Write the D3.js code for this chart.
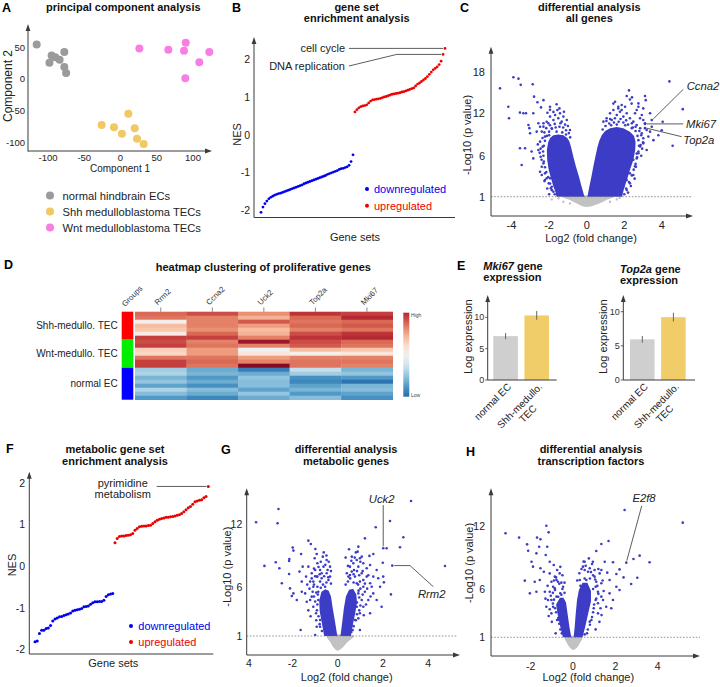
<!DOCTYPE html>
<html><head><meta charset="utf-8">
<script src="https://cdn.jsdelivr.net/npm/d3@7/dist/d3.min.js"></script>
<style>
html,body{margin:0;padding:0;background:#fff;}
svg text{font-family:"Liberation Sans",Arial,Helvetica,sans-serif;}
</style></head><body>
<svg id="fig" width="720" height="687" viewBox="0 0 720 687"></svg>
<script>
// ================= DATA =================
// A: PCA
const pcaGroups = ["normal hindbrain ECs","Shh medulloblastoma TECs","Wnt medulloblastoma TECs"];
const pcaColors = ["#9b9b9b","#f2c864","#f77fe2"];
const pcaNormal = [[-115.6,54],[-95,36.5],[-90,34],[-84,30],[-77.5,42],[-98,25],[-77.5,18.5],[-75,9]];
const pcaShh = [[10.8,-55.5],[-26,-73],[-9,-76.7],[2,-86.8],[19.6,-78.3],[22.8,-94.7],[32,-103]];
const pcaWnt = [[26,47.6],[66,45.5],[90,56.6],[87.6,44],[122.5,42],[108.7,26],[89.4,0.5]];
const pcaXTicks = [-100,-50,0,50,100];
const pcaYTicks = [50,0,-50,-100];

// B: GSEA all
const gseaDown = [-2.07,-1.93,-1.84,-1.77,-1.71,-1.67,-1.64,-1.61,-1.59,-1.57,-1.56,-1.54,-1.52,-1.50,-1.48,-1.46,-1.44,-1.42,-1.40,-1.38,-1.36,-1.34,-1.31,-1.29,-1.27,-1.25,-1.23,-1.21,-1.19,-1.17,-1.15,-1.13,-1.11,-1.09,-1.06,-1.04,-1.02,-1.00,-0.98,-0.96,-0.93,-0.91,-0.90,-0.88,-0.86,-0.82,-0.72,-0.54];
const gseaUp = [0.60,0.66,0.71,0.74,0.76,0.77,0.79,0.84,0.89,0.92,0.93,0.94,0.95,0.96,0.98,1.00,1.01,1.03,1.05,1.07,1.08,1.09,1.10,1.11,1.13,1.14,1.16,1.18,1.20,1.22,1.24,1.29,1.34,1.37,1.41,1.45,1.49,1.54,1.60,1.66,1.72,1.76,1.80,1.86,1.95,2.13,2.29];
const gseaYTicks = [-2,-1,0,1,2];
const gseaLabels = ["cell cycle","DNA replication"];

// C: volcano all genes
const cXTicks = [-4,-2,0,2,4];
const cYTicks = [1,6,12,18];
const cLeftCore = [[-0.12,1.0],[-0.27,2.22],[-0.41,3.44],[-0.57,4.66],[-0.71,5.88],[-0.83,7.19],[-0.92,8.0],[-1.03,8.5],[-1.24,8.9],[-1.51,9.0],[-1.77,8.9],[-1.95,8.5],[-2.05,7.9],[-2.12,6.81],[-2.1,5.47],[-2.02,4.25],[-1.9,3.24],[-1.78,2.30],[-1.65,1.49],[-1.58,1.0]];
const cRightCore = [[0.04,1.0],[0.14,2.22],[0.25,3.44],[0.35,4.66],[0.46,5.88],[0.57,7.19],[0.67,8.1],[0.80,8.9],[0.98,9.5],[1.24,9.9],[1.60,10.05],[1.95,9.9],[2.30,9.4],[2.52,8.8],[2.6,7.99],[2.58,6.81],[2.48,5.47],[2.3,4.25],[2.14,3.03],[1.99,2.02],[1.88,1.0]];
const cGrayCore = [[-1.3,1.0],[-0.9,0.6],[-0.55,0.2],[-0.3,-0.1],[0,-0.25],[0.35,-0.1],[0.7,0.2],[1.05,0.6],[1.45,1.0]];
const cGrayPts = [[-1.86,0.67],[-1.24,0.39],[1.60,0.67],[-0.89,0.18],[1.24,0.39],[-1.5,0.8],[1.75,0.85]];
const cBluePts = [
[-4.61,15.6],[-3.90,17.2],[-3.63,17.0],[-3.51,16.1],[-2.87,16.2],[-4.17,12.95],[-4.13,11.3],[-3.55,12.1],[-3.37,12.0],[-3.23,12.0],[-2.84,12.0],[-2.80,14.4],[-2.62,13.6],[-2.30,13.9],[-2.43,12.85],[-1.95,12.5],[-1.77,12.2],[-1.60,13.3],[-3.55,7.05],[-3.46,4.86],[-3.28,7.05],[-2.93,6.6],[-2.84,5.67],[-3.01,9.17],[-2.66,9.4],[-2.48,4.05],[-2.39,3.64],[-2.22,3.03],[-1.95,3.24],[-1.86,2.22],[-1.77,1.61],[-1.56,1.2],[-3.10,10.35],[-3.05,9.9],[-2.57,10.6],[-2.48,10.1],[-2.13,10.8],[-2.30,10.6],
[-1.56,12.47],[-1.42,12.0],[-1.68,11.76],[-1.95,11.53],[-1.24,11.53],[-1.06,11.06],[-1.77,11.06],[-2.04,10.58],[-2.30,10.11],[-1.33,10.82],[-1.51,11.29],[-1.86,9.88],[-0.89,9.64],[-2.39,9.41],[-2.22,8.70],[-2.48,7.99],[-2.34,7.28],[-2.57,6.81],[-2.45,5.88],[-2.30,5.07],[-2.39,4.66],[-2.22,3.85],[-2.13,3.24],[-2.02,2.63],[-1.91,2.02],[-1.45,12.71],[-1.21,12.23],[-1.95,12.95],[-2.09,12.09],
[-1.70,1.3],[-1.85,1.8],[-1.95,2.6],[-2.05,3.4],[-2.15,4.0],[-2.22,4.6],[-2.28,5.3],[-2.30,6.0],[-2.32,6.6],[-2.28,7.4],[-2.22,8.1],[-2.12,8.8],[-2.0,9.4],[-1.85,9.8],[-1.65,10.0],[-1.45,10.1],[-1.25,10.0],[-1.1,9.6],[-0.95,9.2],[-0.88,8.6],
[-2.4,5.5],[-2.5,6.4],[-2.45,7.0],[-2.6,7.6],[-2.35,8.5],[-2.25,9.3],[-2.15,9.9],[-1.95,10.3],[-1.7,10.5],[-1.4,10.6],[-1.15,10.4],[-1.0,10.2],[-2.0,1.3],[-2.1,2.0],[-2.25,2.9],[-1.6,9.4],[-1.3,9.3],[-2.0,8.9],[-1.1,9.0],
[4.40,16.6],[2.25,15.3],[2.39,13.4],[2.41,14.3],[3.10,14.5],[3.14,13.9],[2.75,12.95],[3.37,12.0],[4.04,10.8],[5.11,12.6],[4.57,7.4],[3.55,8.2],[3.81,8.9],[3.99,9.6],[3.01,7.75],[3.19,6.8],[2.66,6.3],[2.48,5.5],[2.57,4.7],[2.30,3.85],[2.13,3.03],[1.95,2.2],[1.86,1.6],[2.84,7.3],[3.37,9.4],[3.46,10.1],[3.01,11.05],[2.13,14.5],[1.68,12.7],[1.42,13.4],[1.86,13.2],[2.84,11.3],[2.57,12.0],[2.30,14.0],
[1.24,12.0],[1.42,12.47],[1.60,11.76],[1.77,12.23],[1.95,11.53],[2.13,12.0],[2.30,11.29],[2.48,10.82],[2.66,10.35],[2.84,9.88],[2.93,9.17],[3.01,8.46],[2.87,7.52],[2.75,6.34],[2.66,5.67],[2.62,4.66],[2.48,3.64],[2.30,2.63],[2.13,1.81],[0.89,10.82],[1.06,11.29],[1.33,11.06],[1.68,12.95],[1.51,13.67],[2.04,12.95],[1.86,12.47],[2.66,12.47],[2.93,11.76],[3.10,10.58],[3.19,9.64],[3.28,8.70],[2.75,13.43],[3.01,12.71],
[2.0,1.3],[2.1,2.0],[2.25,2.8],[2.4,3.6],[2.5,4.3],[2.6,5.0],[2.68,5.8],[2.75,6.6],[2.78,7.4],[2.75,8.2],[2.7,8.8],[2.6,9.5],[2.45,10.0],[2.2,10.4],[1.95,10.7],[1.7,10.8],[1.45,10.7],[1.2,10.55],[1.0,10.2],[0.85,9.7],
[2.9,6.0],[2.95,7.0],[3.0,7.9],[2.9,8.9],[2.8,9.5],[2.6,10.1],[2.4,10.6],[2.1,11.0],[1.8,11.2],[1.5,11.3],[1.25,11.2],[1.05,10.9],[2.2,1.5],[2.35,2.3],[2.55,3.2],[1.6,10.4],[2.05,10.3],[2.4,9.9],[1.3,10.3]
];
const cLabelGenes = ["Ccna2","Mki67","Top2a"];
const cLabelPts = [[3.46,11.05],[3.10,10.5],[3.10,9.9]];

// D: heatmap
const hmGenes = ["Rrm2","Ccna2","Uck2","Top2a","Mki67"];
const hmGroups = ["Shh-medullo. TEC","Wnt-medullo. TEC","normal EC"];
const hmGroupColors = ["#ff0000","#00ee00","#0000ff"];
const hmRowGroup = [0,0,0,0,0,0,0,1,1,1,1,1,1,1,2,2,2,2,2,2,2,2];
const hmValues = [
[1.5,1.7,1.2,1.9,1.8],[1.4,1.3,0.9,1.5,2.0],[0.05,1.3,1.6,1.4,1.5],[0.8,1.3,1.1,1.5,1.6],[0.7,1.2,0.8,1.3,1.4],[0.2,1.5,0.9,1.7,1.9],[1.8,1.8,1.3,1.9,2.0],
[1.7,1.3,2.2,1.7,1.5],[1.8,1.4,1.3,1.6,1.4],[0.6,1.1,-0.05,0.8,0.7],[0.5,1.1,0.3,0.1,0.3],[1.4,1.4,1.1,1.3,1.3],[1.8,1.5,1.3,1.4,1.4],[1.8,1.4,2.4,1.4,1.3],
[-0.9,-1.3,-1.8,-0.6,-1.2],[-0.8,-1.2,-1.3,-0.9,-1.0],[-1.2,-1.5,-1.0,-1.6,-1.5],[-1.0,-1.3,-1.1,-1.7,-1.9],[-1.4,-1.6,-1.1,-1.4,-1.2],[-0.8,-1.1,-1.4,-1.2,-1.1],[-1.1,-1.3,-1.0,-1.5,-1.4],[-1.5,-1.7,-1.3,-1.1,-1.6]
];

// E: bar charts
const eGenes = ["Mki67","Top2a"];
const eGroups = ["normal EC","Shh-medullo. TEC"];
const eMeans = [[7.0,10.3],[5.95,9.2]];
const eErrs = [[0.5,0.7],[0.5,0.65]];
const eYTicks = [0,5,10];
const eBarColors = ["#cfcfcf","#f1cd6a"];

// F: metabolic GSEA
const fDown = [-1.82,-1.80,-1.62,-1.54,-1.54,-1.50,-1.49,-1.43,-1.32,-1.27,-1.25,-1.22,-1.21,-1.19,-1.17,-1.15,-1.13,-1.08,-1.06,-1.05,-1.04,-1.02,-0.98,-0.97,-0.96,-0.92,-0.88,-0.86,-0.86,-0.85,-0.85,-0.82,-0.73,-0.69,-0.67,-0.66];
const fUp = [0.56,0.66,0.71,0.72,0.72,0.73,0.74,0.75,0.78,0.86,0.90,0.94,0.955,0.96,0.96,0.97,0.98,1.02,1.06,1.10,1.12,1.14,1.15,1.17,1.17,1.18,1.19,1.20,1.22,1.23,1.26,1.30,1.35,1.40,1.43,1.48,1.54,1.56,1.58,1.59,1.64,1.67,1.91];
const fYTicks = [-2,-1,0,1,2];

// G: volcano metabolic
const gXTicks = [-4,-2,0,2,4];
const gXTickLabels = ["4","-2","0","2","4"];
const gYTicks = [1,6,12];
const gLeftCore = [[-0.02,1.0],[-0.12,2.45],[-0.22,3.80],[-0.30,5.0],[-0.4,5.6],[-0.55,5.75],[-0.72,5.5],[-0.82,4.6],[-0.8,3.5],[-0.7,2.28],[-0.6,1.0]];
const gRightCore = [[0.12,1.0],[0.2,2.45],[0.27,3.80],[0.36,5.0],[0.5,5.7],[0.68,5.8],[0.82,5.2],[0.85,4.4],[0.78,3.4],[0.68,2.3],[0.58,1.0]];
const gGrayCore = [[-0.49,1.0],[-0.34,0.42],[-0.16,-0.25],[-0.02,-0.49],[0.18,-0.25],[0.40,0.32],[0.72,1.0]];
const gBluePts = [
[-3.61,12.19],[-2.62,13.47],[-2.66,12.10],[-3.24,8.0],[-2.58,7.77],[-2.74,8.35],[-1.99,9.76],[-1.96,9.47],[-2.14,8.67],[-2.15,8.47],[-2.47,6.33],[-2.15,7.22],[-1.30,10.43],[-1.19,10.11],[-1.62,9.15],[-0.99,9.63],[-0.93,9.15],[-1.02,8.73],[-1.55,7.93],[-1.30,7.93],[-1.05,7.74],[-1.15,7.29],[-1.69,7.45],[-1.40,6.97],[-1.59,6.49],[-1.22,6.49],[-0.90,6.97],[-2.11,5.83],[-1.96,5.32],[-2.03,5.05],[-1.59,5.49],[-1.81,4.65],[-1.44,5.32],[-1.08,6.0],[-0.78,6.49],[-0.71,7.29],[-0.86,5.49],[-1.15,4.99],[-1.64,1.61],[-1.00,1.10],[-0.78,1.94],[-0.56,2.96],[-0.63,3.97],[-1.08,3.97],[-1.37,4.48],
[-0.63,7.93],[-0.49,7.29],[-0.78,7.61],[-0.93,6.97],[-0.56,6.0],[-0.41,6.65],[-1.08,6.49],[-0.86,4.65],[-0.96,3.30],[-0.78,2.62],[-0.34,7.93],[-0.66,8.89],[-0.49,8.57],[-0.90,8.25],[-0.71,6.81],[-1.11,5.49],[-1.22,4.65],[-0.93,1.94],[-0.34,6.97],
[-1.0,7.6],[-0.85,7.9],[-0.75,8.4],[-0.55,8.1],[-0.45,7.6],[-0.6,7.0],[-0.8,7.2],[-1.0,7.0],[-1.15,6.8],[-1.05,6.2],[-0.9,6.0],[-0.75,5.9],[-0.95,5.4],[-1.05,5.0],[-1.0,4.5],[-0.9,4.2],[-0.92,3.6],[-0.85,3.0],[-0.8,2.2],[-0.7,1.5],[-0.55,1.3],[-1.2,3.0],[-1.3,3.6],[-1.25,5.8],[-1.35,6.2],[-0.62,9.3],[-0.5,9.0],[-0.4,8.4],[-0.3,7.5],[-0.42,6.9],[-0.3,6.3],[-0.5,6.4],[-0.65,6.2],[-0.88,5.2],[-0.95,2.6],
[3.24,14.24],[2.31,12.32],[2.90,10.75],[2.75,9.79],[2.01,9.69],[2.16,9.69],[1.68,11.71],[1.20,10.65],[0.91,9.85],[0.88,9.37],[1.57,9.15],[0.98,8.73],[1.40,8.96],[1.99,8.31],[2.41,8.03],[4.74,7.99],[2.35,5.22],[2.01,6.97],[2.04,6.42],[1.72,7.61],[1.43,8.09],[1.13,8.25],[0.84,8.57],[0.62,7.45],[0.54,7.13],[0.72,7.61],[1.06,7.29],[1.28,6.97],[1.57,6.97],[1.79,6.81],[1.43,6.33],[1.13,6.0],[1.57,5.32],[1.35,4.65],[1.72,4.65],[1.13,3.97],[0.98,3.30],[1.43,3.30],[1.87,6.0],[0.84,6.33],[1.94,3.97],
[0.54,7.93],[0.69,8.25],[0.91,7.93],[0.76,6.97],[0.98,6.49],[0.91,5.32],[1.06,4.65],[0.84,3.97],[0.76,2.62],[0.66,1.61],[0.47,6.97],[1.13,6.65],[0.40,7.29],[0.62,8.89],[1.06,8.89],[1.28,7.77],[1.20,5.49],[0.98,1.61],[0.91,2.79],
[0.45,8.0],[0.6,8.5],[0.75,8.8],[0.85,7.5],[0.95,7.1],[0.7,7.2],[0.55,6.8],[0.9,6.2],[1.0,5.8],[1.1,5.2],[0.95,4.9],[0.85,4.4],[1.0,4.1],[0.95,3.6],[0.85,3.2],[0.8,2.6],[0.7,2.0],[0.6,1.4],[1.15,3.1],[1.25,4.2],[1.3,5.8],[1.2,6.3],[1.1,7.5],[1.0,8.4],[0.8,9.3],[0.5,9.6],[0.35,8.8],[1.35,7.1],[1.5,6.0],[1.45,5.0],[0.35,6.2],[0.45,6.5],[0.7,6.4],[0.92,5.6]
];
const gLabelGenes = ["Uck2","Rrm2"];
const gLabelPts = [[2.01,9.69],[2.41,8.03]];

// H: volcano transcription factors
const hXTicks = [-2,0,2,4];
const hYTicks = [1,6,12];
const hLeftCore = [[-0.08,1.0],[-0.17,2.10],[-0.26,3.48],[-0.33,4.6],[-0.45,5.1],[-0.62,5.1],[-0.8,4.4],[-0.72,3.3],[-0.6,2.10],[-0.48,1.0]];
const hRightCore = [[0.03,1.0],[0.08,2.10],[0.13,3.48],[0.19,4.86],[0.28,5.9],[0.45,6.6],[0.68,6.6],[0.85,5.8],[0.85,4.7],[0.72,3.48],[0.58,2.10],[0.45,1.0]];
const hGrayCore = [[-0.39,1.0],[-0.28,0.38],[-0.12,-0.14],[0.0,-0.31],[0.16,-0.14],[0.32,0.38],[0.44,1.0]];
const hBluePts = [
[-3.19,11.28],[-2.55,10.87],[-2.17,10.23],[-2.12,9.63],[-1.70,10.87],[-1.54,10.71],[-1.26,12.0],[-1.15,11.37],[-1.22,10.01],[-1.60,10.01],[-1.73,9.38],[-1.96,8.59],[-1.89,8.12],[-1.54,7.96],[-1.29,9.22],[-1.10,8.59],[-0.91,8.28],[-1.38,7.64],[-1.57,6.85],[-2.28,6.79],[-2.04,5.55],[-1.81,6.69],[-1.10,7.48],[-0.78,6.85],[-0.86,6.06],[-1.73,5.72],[-1.33,5.72],[-1.02,4.86],[-0.71,4.17],[-1.02,3.48],[-1.26,4.17],[-0.60,5.55],[-0.66,2.79],
[-0.78,5.21],[-0.94,6.22],[-1.10,5.72],[-0.86,7.17],[-1.02,6.69],[-0.63,7.48],[-0.71,6.69],[-0.47,6.22],[-1.18,4.86],[-0.94,4.17],[-0.75,2.79],[-0.53,1.41],[-0.82,1.41],
[-0.9,6.8],[-0.8,7.1],[-0.65,6.5],[-0.55,6.6],[-0.5,6.0],[-0.95,5.6],[-0.85,5.9],[-1.05,5.3],[-0.95,4.5],[-0.85,4.0],[-0.8,3.6],[-0.7,3.0],[-0.65,2.4],[-0.6,1.8],[-0.45,1.5],[-1.1,3.9],[-1.15,3.2],[-1.0,2.6],[-0.5,7.3],[-0.4,6.6],[-1.2,6.3],[-1.3,5.0],[-0.75,7.8],[-0.6,8.1],[-0.4,5.6],[-0.55,5.4],[-0.7,5.2],[-0.9,4.9],
[2.44,13.49],[5.19,12.29],[1.68,10.55],[1.34,10.27],[1.10,9.60],[0.55,8.59],[0.94,8.59],[1.50,8.59],[1.89,8.53],[0.90,8.37],[1.02,7.80],[0.71,7.64],[1.34,7.80],[1.62,7.55],[2.05,7.42],[2.20,7.86],[2.52,8.50],[2.86,8.84],[3.15,9.16],[3.62,8.53],[3.04,7.07],[2.75,6.47],[2.39,7.10],[1.73,6.85],[1.34,6.54],[1.07,6.22],[2.05,6.22],[1.73,5.55],[1.42,4.86],[1.89,4.86],[2.20,5.90],[1.57,4.17],[1.18,3.48],[1.07,1.82],[0.79,2.62],[1.81,4.00],[0.63,6.85],[0.47,8.12],
[0.79,7.96],[1.02,7.17],[1.10,6.69],[1.18,5.72],[1.07,4.86],[0.98,4.00],[0.87,2.79],[0.66,1.41],[1.26,7.48],[0.55,7.80],[0.32,6.85],[1.34,5.21],[1.18,4.52],
[0.4,7.9],[0.6,8.2],[0.85,7.6],[0.95,7.3],[1.05,6.9],[1.15,6.3],[1.2,5.5],[1.1,5.0],[1.0,4.4],[0.95,3.6],[0.9,3.1],[0.8,2.3],[0.7,1.8],[0.55,1.3],[1.3,4.0],[1.35,3.3],[1.25,2.6],[1.45,5.8],[1.4,6.8],[1.2,7.9],[0.3,7.5],[0.2,6.8],[0.5,8.6],[0.75,8.9],[0.35,6.3],[0.55,7.0],[0.8,7.0],[0.95,6.0]
];
const hLabelGenes = ["E2f8"];
const hLabelPts = [[2.52,8.50]];

// ================= DRAWING =================
const svg = d3.select("#fig");
const AX = "#3a3a3a";
const BLUE = "#3c3cc6", GRAY = "#c2c2c2";

function T(g, x, y, s, o = {}) {
  const t = g.append("text").attr("x", x).attr("y", y).text(s)
    .attr("font-size", o.size || 10)
    .attr("font-weight", o.bold ? "bold" : "normal")
    .attr("font-style", o.italic ? "italic" : "normal")
    .attr("text-anchor", o.anchor || "start")
    .attr("dominant-baseline", "central")
    .attr("fill", o.fill || "#222");
  if (o.rotate != null) t.attr("transform", `rotate(${o.rotate},${x},${y})`);
  return t;
}
function vAxis(g, x, yTop, yBot) {
  g.append("line").attr("x1", x).attr("x2", x).attr("y1", yTop + 5).attr("y2", yBot).attr("stroke", AX).attr("stroke-width", 1);
  g.append("path").attr("d", `M${x},${yTop}L${x-2.4},${yTop+7}L${x+2.4},${yTop+7}Z`).attr("fill", AX);
}
function hAxisArrow(g, y, xL, xR) {
  g.append("line").attr("x1", xL).attr("x2", xR - 5).attr("y1", y).attr("y2", y).attr("stroke", AX).attr("stroke-width", 1);
  g.append("path").attr("d", `M${xR},${y}L${xR-7},${y-2.4}L${xR-7},${y+2.4}Z`).attr("fill", AX);
}
function hAxis(g, y, xL, xR) {
  g.append("line").attr("x1", xL).attr("x2", xR).attr("y1", y).attr("y2", y).attr("stroke", AX).attr("stroke-width", 1);
}
function ln(g, pts, w) {
  g.append("path").attr("d", d3.line()(pts)).attr("fill", "none").attr("stroke", "#333").attr("stroke-width", w || 0.8);
}

// Panel letters
[["A",2,8],["B",232,8],["C",460,8],["D",4,265],["E",457,266],["F",6,449],["G",221,450],["H",466,452]].forEach(d =>
  T(svg, d[1], d[2], d[0], {size: 12.5, bold: true, fill: "#000"}));

// ---------- A ----------
{
  const g = svg.append("g");
  const x = d3.scaleLinear().domain([-100, 100]).range([48, 193]);
  const y = d3.scaleLinear().domain([-100, 50]).range([142, 47]);
  T(g, 123.3, 7, "principal component analysis", {size: 11, bold: true, anchor: "middle", fill: "#111"});
  vAxis(g, 28, 24, 151.5);
  hAxisArrow(g, 151, 28, 212);
  pcaXTicks.forEach(t => T(g, x(t), 157, t, {size: 9.5, anchor: "middle"}));
  pcaYTicks.forEach(t => T(g, 25, y(t), t, {size: 9.5, anchor: "end"}));
  T(g, 120, 168.5, "Component 1", {size: 10, anchor: "middle"});
  T(g, 7.5, 86, "Component 2", {size: 12, anchor: "middle", rotate: -90});
  [pcaNormal, pcaShh, pcaWnt].forEach((arr, k) => {
    g.selectAll(null).data(arr).join("circle")
      .attr("cx", d => x(d[0])).attr("cy", d => y(d[1])).attr("r", 4).attr("fill", pcaColors[k]);
  });
  pcaGroups.forEach((s, k) => {
    const yy = 195.5 + k * 16;
    g.append("circle").attr("cx", 50).attr("cy", yy).attr("r", 4).attr("fill", pcaColors[k]);
    T(g, 62.5, yy, s, {size: 11.2});
  });
}

// ---------- B ----------
{
  const g = svg.append("g");
  const n = gseaDown.length + gseaUp.length;
  const x = d3.scaleLinear().domain([0, n - 1]).range([261, 445]);
  const y = d3.scaleLinear().domain([-2, 2]).range([209.7, 59.3]);
  T(g, 356.7, 6.7, "gene set", {size: 11, bold: true, anchor: "middle", fill: "#111"});
  T(g, 356.7, 18.3, "enrichment analysis", {size: 11, bold: true, anchor: "middle", fill: "#111"});
  vAxis(g, 254, 37, 217.5);
  hAxis(g, 217.5, 254, 455);
  gseaYTicks.forEach(t => T(g, 250, y(t), t, {size: 10.5, anchor: "end"}));
  T(g, 237, 134.5, "NES", {size: 11, anchor: "middle", rotate: -90});
  T(g, 355, 236.7, "Gene sets", {size: 11, anchor: "middle"});
  g.selectAll(null).data(gseaDown).join("circle")
    .attr("cx", (d, i) => x(i)).attr("cy", d => y(d)).attr("r", 1.4).attr("fill", "#0000ee");
  g.selectAll(null).data(gseaUp).join("circle")
    .attr("cx", (d, i) => x(i + gseaDown.length)).attr("cy", d => y(d)).attr("r", 1.4).attr("fill", "#ee0000");
  const iCC = n - 1, iDNA = n - 2;
  T(g, 345, 47.5, gseaLabels[0], {size: 11, anchor: "end"});
  ln(g, [[349, y(gseaUp[gseaUp.length - 1])], [x(iCC) - 2, y(gseaUp[gseaUp.length - 1])]]);
  T(g, 345, 66, gseaLabels[1], {size: 11, anchor: "end"});
  ln(g, [[349, 66], [396.7, y(gseaUp[gseaUp.length - 2])], [x(iDNA) - 2, y(gseaUp[gseaUp.length - 2])]]);
  g.append("circle").attr("cx", 367).attr("cy", 189).attr("r", 2).attr("fill", "#0000ee");
  T(g, 374, 189, "downregulated", {size: 11, fill: "#0000ee"});
  g.append("circle").attr("cx", 367).attr("cy", 205.7).attr("r", 2).attr("fill", "#ee0000");
  T(g, 374, 205.7, "upregulated", {size: 11, fill: "#ee0000"});
}

// ---------- volcano helper ----------
function volcano(g, x, y, cores, grayCore, grayPts, bluePts) {
  const area = d3.line().x(d => x(d[0])).y(d => y(d[1])).curve(d3.curveLinearClosed);
  const soft = d3.line().x(d => x(d[0])).y(d => y(d[1])).curve(d3.curveCatmullRomClosed.alpha(0.5));
  g.append("path").attr("d", soft(grayCore)).attr("fill", GRAY);
  g.selectAll(null).data(grayPts).join("circle")
    .attr("cx", d => x(d[0])).attr("cy", d => y(d[1])).attr("r", 1.2).attr("fill", GRAY);
  cores.forEach(c => g.append("path").attr("d", area(c)).attr("fill", BLUE));
  g.selectAll(null).data(bluePts).join("circle")
    .attr("cx", d => x(d[0])).attr("cy", d => y(d[1])).attr("r", 1.3).attr("fill", BLUE);
}
function dashed(g, yy, x1, x2) {
  g.append("line").attr("x1", x1).attr("x2", x2).attr("y1", yy).attr("y2", yy)
    .attr("stroke", "#777").attr("stroke-width", 0.8).attr("stroke-dasharray", "1.6,1.6");
}

// ---------- C ----------
{
  const g = svg.append("g");
  const x = d3.scaleLinear().domain([-4, 4]).range([511.5, 661.9]);
  const y = d3.scaleLinear().domain([1, 6, 12, 18]).range([196.7, 155.7, 113.3, 71.7]);
  T(g, 589.3, 6.7, "differential analysis", {size: 11, bold: true, anchor: "middle", fill: "#111"});
  T(g, 589.3, 17.7, "all genes", {size: 11, bold: true, anchor: "middle", fill: "#111"});
  volcano(g, x, y, [cLeftCore, cRightCore], cGrayCore, cGrayPts, cBluePts.concat(cLabelPts));
  dashed(g, y(1), 491, 691);
  vAxis(g, 491, 46.7, 216);
  hAxisArrow(g, 216, 491, 693);
  cXTicks.forEach(t => T(g, x(t), 225, t, {size: 11, anchor: "middle"}));
  cYTicks.forEach(t => T(g, 485, y(t), t, {size: 11, anchor: "end"}));
  T(g, 591, 238.3, "Log2 (fold change)", {size: 11, anchor: "middle"});
  T(g, 467, 135, "-Log10 (p value)", {size: 11, anchor: "middle", rotate: -90});
  const p = cLabelPts.map(d => [x(d[0]), y(d[1])]);
  ln(g, [[683.3, 89.3], [p[0][0] + 1.5, p[0][1] - 1]]);
  T(g, 686.7, 86, cLabelGenes[0], {size: 11.3, italic: true});
  ln(g, [[683.3, p[1][1]], [p[1][0] + 1.5, p[1][1]]]);
  T(g, 686, 124, cLabelGenes[1], {size: 11.3, italic: true});
  ln(g, [[681.7, 136.7], [p[2][0] + 1.5, p[2][1]]]);
  T(g, 683.3, 140, cLabelGenes[2], {size: 11.3, italic: true});
}

// ---------- D ----------
{
  const g = svg.append("g");
  T(g, 263.3, 266.7, "heatmap clustering of proliferative genes", {size: 11, bold: true, anchor: "middle", fill: "#111"});
  const x = d3.scaleBand().domain(hmGenes).range([135, 392.7]);
  const y = d3.scaleBand().domain(d3.range(hmValues.length)).range([311.7, 399.7]);
  const color = d3.scaleSequential(d3.interpolateRdBu).domain([2.6, -2.6]);
  hmValues.forEach((row, r) => {
    row.forEach((v, c) => {
      g.append("rect").attr("x", x(hmGenes[c])).attr("y", y(r)).attr("width", x.bandwidth() + 0.3)
        .attr("height", y.bandwidth() + 0.3).attr("fill", color(v));
    });
  });
  hmGroups.forEach((name, k) => {
    const rows = hmRowGroup.map((gg, i) => gg === k ? i : -1).filter(i => i >= 0);
    const y0 = y(rows[0]), y1 = y(rows[rows.length - 1]) + y.bandwidth();
    g.append("rect").attr("x", 121.7).attr("y", y0).attr("width", 11.6).attr("height", y1 - y0).attr("fill", hmGroupColors[k]);
    T(g, 117.7, (y0 + y1) / 2, name, {size: 10, anchor: "end"});
  });
  hmGenes.forEach(gn => {
    const cx = x(gn) + x.bandwidth() / 2;
    g.append("line").attr("x1", cx).attr("x2", cx).attr("y1", 307.5).attr("y2", 311.7).attr("stroke", "#555").attr("stroke-width", 0.7);
    g.append("text").attr("x", cx - 3).attr("y", 305.5).text(gn).attr("font-size", 7.8).attr("fill", "#333")
      .attr("transform", `rotate(-45,${cx - 3},305.5)`);
  });
  g.append("text").attr("x", 125).attr("y", 307).text("Groups").attr("font-size", 7.8).attr("fill", "#333")
    .attr("transform", "rotate(-45,125,307)");
  const defs = svg.append("defs");
  const grad = defs.append("linearGradient").attr("id", "hmgrad").attr("x1", 0).attr("x2", 0).attr("y1", 0).attr("y2", 1);
  d3.range(0, 1.0001, 0.1).forEach(t => grad.append("stop").attr("offset", t).attr("stop-color", color(2.0 - 4.0 * t)));
  g.append("rect").attr("x", 403.3).attr("y", 312.7).attr("width", 6).attr("height", 84).attr("fill", "url(#hmgrad)");
  T(g, 411, 315, "High", {size: 5, fill: "#444"});
  T(g, 411, 394.5, "Low", {size: 5, fill: "#444"});
}

// ---------- E ----------
{
  const cfg = [
    {ax: 487.7, xEnd: 556.7, r: [490.2, 552.1], y10: 317.3, tx: 483.3, ty: 266, ylx: 468.3},
    {ax: 623.3, xEnd: 695, r: [626.9, 688.8], y10: 311.7, tx: 620, ty: 269, ylx: 603.3}
  ];
  eGenes.forEach((gene, k) => {
    const c = cfg[k];
    const g = svg.append("g");
    const x = d3.scaleBand().domain(eGroups).range(c.r).paddingInner(0.21).paddingOuter(0.1);
    const y = d3.scaleLinear().domain([0, 10]).range([380, c.y10]);
    const t1 = g.append("text").attr("x", c.tx).attr("y", c.ty).attr("dominant-baseline", "central")
      .attr("font-size", 11).attr("font-weight", "bold").attr("fill", "#111");
    t1.append("tspan").attr("font-style", "italic").text(gene);
    t1.append("tspan").text(" gene");
    T(g, c.tx, c.ty + 11, "expression", {size: 11, bold: true, fill: "#111"});
    g.selectAll(null).data(eMeans[k]).join("rect")
      .attr("x", (d, i) => x(eGroups[i])).attr("width", x.bandwidth())
      .attr("y", d => y(d)).attr("height", d => y(0) - y(d)).attr("fill", (d, i) => eBarColors[i]);
    eMeans[k].forEach((m, i) => {
      const cx = x(eGroups[i]) + x.bandwidth() / 2;
      g.append("line").attr("x1", cx).attr("x2", cx).attr("y1", y(m - eErrs[k][i])).attr("y2", y(m + eErrs[k][i]))
        .attr("stroke", "#666").attr("stroke-width", 1);
    });
    vAxis(g, c.ax, 295, 380);
    hAxis(g, 380, c.ax, c.xEnd);
    eYTicks.forEach(t => {
      g.append("line").attr("x1", c.ax - 2.5).attr("x2", c.ax).attr("y1", y(t)).attr("y2", y(t)).attr("stroke", AX).attr("stroke-width", 0.8);
      T(g, c.ax - 3.5, y(t), t, {size: 9, anchor: "end", fill: "#333"});
    });
    T(g, c.ylx, 336.7, "Log expression", {size: 11, anchor: "middle", rotate: -90});
    eGroups.forEach((lab, i) => {
      const cx = x(lab) + x.bandwidth() / 2 + 1;
      const lg = g.append("g").attr("transform", `translate(${cx},382) rotate(-45)`);
      const parts = lab.split(" TEC");
      const l1 = lg.append("text").attr("x", 0).attr("y", 0).attr("dy", "0.75em").attr("text-anchor", "end")
        .attr("font-size", 10).attr("fill", "#222").text(parts[0]);
      if (parts.length > 1) {
        const w = l1.node().getComputedTextLength();
        lg.append("text").attr("x", -w / 2).attr("y", 0).attr("dy", "1.9em").attr("text-anchor", "middle")
          .attr("font-size", 10).attr("fill", "#222").text("TEC");
      }
    });
  });
}

// ---------- F ----------
{
  const g = svg.append("g");
  const n = fDown.length + fUp.length;
  const x = d3.scaleLinear().domain([0, n - 1]).range([35, 208.3]);
  const y = d3.scaleLinear().domain([-2, 2]).range([649.3, 482.7]);
  T(g, 115, 449.3, "metabolic gene set", {size: 11, bold: true, anchor: "middle", fill: "#111"});
  T(g, 115, 460.5, "enrichment analysis", {size: 11, bold: true, anchor: "middle", fill: "#111"});
  vAxis(g, 29.3, 471.7, 654);
  hAxis(g, 654, 29.3, 213.3);
  fYTicks.forEach(t => T(g, 25, y(t), t, {size: 10.5, anchor: "end"}));
  T(g, 11.7, 565, "NES", {size: 11, anchor: "middle", rotate: -90});
  T(g, 113.3, 663.3, "Gene sets", {size: 11, anchor: "middle"});
  g.selectAll(null).data(fDown).join("circle")
    .attr("cx", (d, i) => x(i)).attr("cy", d => y(d)).attr("r", 1.5).attr("fill", "#0000ee");
  g.selectAll(null).data(fUp).join("circle")
    .attr("cx", (d, i) => x(i + fDown.length)).attr("cy", d => y(d)).attr("r", 1.5).attr("fill", "#ee0000");
  const last = fUp[fUp.length - 1];
  T(g, 122.7, 482.7, "pyrimidine", {size: 11, anchor: "middle"});
  T(g, 122.7, 494, "metabolism", {size: 11, anchor: "middle"});
  ln(g, [[156.7, y(last)], [x(n - 1) - 2, y(last)]]);
  g.append("circle").attr("cx", 131).attr("cy", 626).attr("r", 2).attr("fill", "#0000ee");
  T(g, 138.3, 626, "downregulated", {size: 11, fill: "#0000ee"});
  g.append("circle").attr("cx", 131).attr("cy", 642).attr("r", 2).attr("fill", "#ee0000");
  T(g, 138.3, 642, "upregulated", {size: 11, fill: "#ee0000"});
}

// ---------- G ----------
{
  const g = svg.append("g");
  const x = d3.scaleLinear().domain([-2, 2]).range([292.5, 383]);
  const y = d3.scaleLinear().domain([1, 6, 12]).range([636, 586.7, 524.3]);
  T(g, 346, 449.3, "differential analysis", {size: 11, bold: true, anchor: "middle", fill: "#111"});
  T(g, 346, 460.5, "metabolic genes", {size: 11, bold: true, anchor: "middle", fill: "#111"});
  volcano(g, x, y, [gLeftCore, gRightCore], gGrayCore, [], gBluePts);
  dashed(g, y(1), 246.7, 456.7);
  vAxis(g, 246.7, 488.3, 655);
  hAxisArrow(g, 655, 246.7, 460);
  gXTicks.forEach((t, i) => T(g, i === 0 ? 249 : x(t), 663.3, gXTickLabels[i], {size: 10.5, anchor: "middle"}));
  gYTicks.forEach(t => T(g, 242.3, y(t), t, {size: 10.5, anchor: "end"}));
  T(g, 346.7, 676.7, "Log2 (fold change)", {size: 11, anchor: "middle"});
  T(g, 226.7, 566.7, "-Log10 (p value)", {size: 11, anchor: "middle", rotate: -90});
  const p = gLabelPts.map(d => [x(d[0]), y(d[1])]);
  T(g, 381.7, 499.3, gLabelGenes[0], {size: 11.3, italic: true, anchor: "middle"});
  ln(g, [[p[0][0], 505], [p[0][0], p[0][1] - 2]]);
  ln(g, [[p[1][0] + 2, p[1][1]], [410, p[1][1]], [433.3, 586.7]]);
  T(g, 431.7, 594.3, gLabelGenes[1], {size: 11.3, italic: true, anchor: "middle"});
}

// ---------- H ----------
{
  const g = svg.append("g");
  const x = d3.scaleLinear().domain([-2, 2]).range([530.7, 615.3]);
  const y = d3.scaleLinear().domain([1, 6, 12]).range([637.3, 589, 525.7]);
  T(g, 591, 449.3, "differential analysis", {size: 11, bold: true, anchor: "middle", fill: "#111"});
  T(g, 591, 460.5, "transcription factors", {size: 11, bold: true, anchor: "middle", fill: "#111"});
  volcano(g, x, y, [hLeftCore, hRightCore], hGrayCore, [], hBluePts);
  dashed(g, y(1), 491, 700);
  vAxis(g, 491, 488.3, 656);
  hAxisArrow(g, 656, 491, 700);
  hXTicks.forEach(t => T(g, x(t), 665.7, t, {size: 10.5, anchor: "middle"}));
  hYTicks.forEach(t => T(g, 485, y(t), t, {size: 10.5, anchor: "end"}));
  T(g, 588.3, 676.7, "Log2 (fold change)", {size: 11, anchor: "middle"});
  T(g, 469, 563, "-Log10 (p value)", {size: 11, anchor: "middle", rotate: -90});
  const p = hLabelPts.map(d => [x(d[0]), y(d[1])]);
  T(g, 644, 497.7, hLabelGenes[0], {size: 11.3, italic: true, anchor: "middle"});
  ln(g, [[641.7, 506], [p[0][0] + 0.5, p[0][1] - 2]]);
}
</script></body></html>
